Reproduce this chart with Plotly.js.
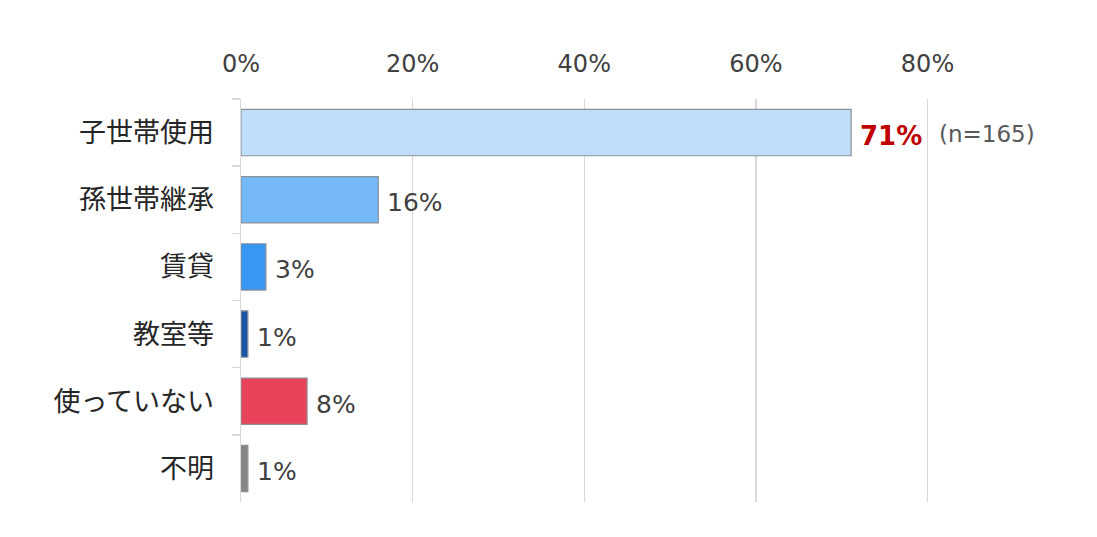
<!DOCTYPE html>
<html>
<head>
<meta charset="utf-8">
<script src="https://cdn.plot.ly/plotly-3.0.1.min.js"></script>
<style>html,body{margin:0;padding:0;background:#fff;}#chart{width:1097px;height:537px;}</style>
</head>
<body>
<div id="chart"></div>
<script>
const categories = ['子世帯使用', '孫世帯継承', '賃貸', '教室等', '使っていない', '不明'];
const values = [0.711, 0.16, 0.029, 0.008, 0.077, 0.008];
const labels = ['71%', '16%', '3%', '1%', '8%', '1%'];
const barColors = ['#BFDEFC', '#74B8F8', '#3797F2', '#1B56A6', '#E8435A', '#868686'];
const sampleNote = '(n=165)';
const xTickVals = [0, 0.2, 0.4, 0.6, 0.8];
const xTickText = ['0%', '20%', '40%', '60%', '80%'];

const numFont = 'DejaVu Sans, Verdana, sans-serif';
const jpFont = 'Noto Sans CJK JP, sans-serif';

const trace = {
  type: 'bar',
  orientation: 'h',
  y: categories,
  x: values,
  marker: { color: barColors, line: { color: '#8C9196', width: 1.2 } },
  hoverinfo: 'none',
  cliponaxis: false
};

const annotations = categories.map((c, i) => ({
  x: values[i], y: c, xref: 'x', yref: 'y',
  text: i === 0 ? '<b>' + labels[i] + '</b>' : labels[i],
  showarrow: false, xanchor: 'left', yanchor: 'middle',
  xshift: 7, yshift: -3,
  font: i === 0 ? { family: numFont, size: 26, color: '#C00000' } : { family: numFont, size: 25, color: '#404040' }
}));
annotations.push({
  x: values[0], y: categories[0], xref: 'x', yref: 'y',
  text: sampleNote, showarrow: false, xanchor: 'left', yanchor: 'middle',
  xshift: 86, yshift: -1,
  font: { family: numFont, size: 23, color: '#595959' }
});

const layout = {
  width: 1097, height: 537,
  margin: { l: 241, r: 118, t: 99, b: 35 },
  paper_bgcolor: '#ffffff', plot_bgcolor: '#ffffff',
  showlegend: false,
  bargap: 0.31,
  xaxis: {
    side: 'top', range: [0, 0.86],
    tickvals: xTickVals, ticktext: xTickText,
    showgrid: true, gridcolor: '#D9D9D9', gridwidth: 1.5,
    zeroline: false, showline: false, ticks: '',
    ticklabelstandoff: 21,
    tickfont: { family: numFont, size: 24, color: '#404040' },
    fixedrange: true
  },
  yaxis: {
    type: 'category', autorange: 'reversed',
    showline: true, linecolor: '#D9D9D9', linewidth: 1.5,
    ticks: 'outside', tickson: 'boundaries', ticklen: 8, tickcolor: '#D9D9D9', tickwidth: 1.5,
    showgrid: false, zeroline: false,
    ticklabelstandoff: 20,
    tickfont: { family: jpFont, size: 27, color: '#262626' },
    fixedrange: true
  },
  annotations: annotations
};

Plotly.newPlot('chart', [trace], layout, { displayModeBar: false, staticPlot: true });
</script>
</body>
</html>
